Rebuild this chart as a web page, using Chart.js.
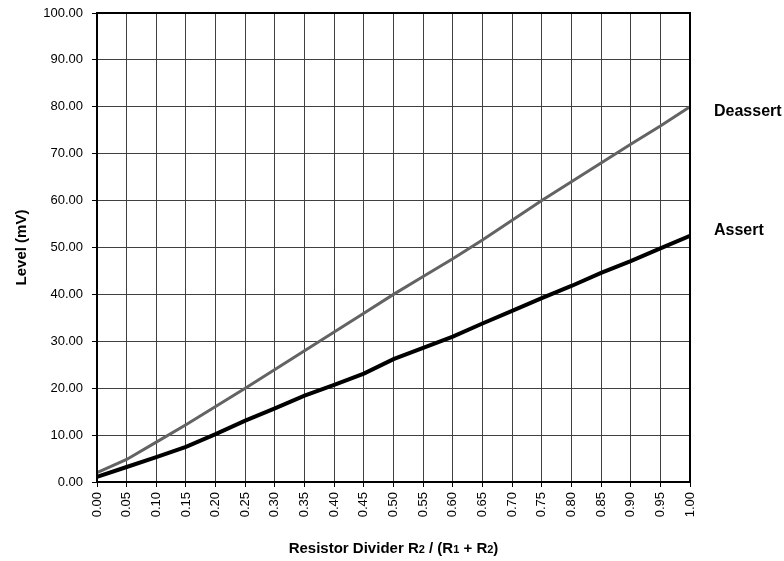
<!DOCTYPE html>
<html>
<head>
<meta charset="utf-8">
<script src="https://cdn.jsdelivr.net/npm/chart.js@4.4.1/dist/chart.umd.min.js"></script>
<style>
    html, body { margin: 0; padding: 0; background: #fff; }
    #wrap { width: 784px; height: 561px; position: relative; }
</style>
</head>
<body>
<div id="wrap"><canvas id="chart_1"></canvas></div>
<script>
// divider ratio R2 / (R1 + R2)
var ratios = [0.00, 0.05, 0.10, 0.15, 0.20, 0.25, 0.30, 0.35, 0.40, 0.45, 0.50,
    0.55, 0.60, 0.65, 0.70, 0.75, 0.80, 0.85, 0.90, 0.95, 1.00]
// level in mV
var deassert = [2.0, 4.8, 8.5, 12.2, 16.1, 20.0, 24.0, 28.0, 32.0, 36.0, 40.0,
    43.8, 47.6, 51.6, 55.8, 60.0, 64.0, 68.0, 72.0, 75.9, 80.0]
var assert = [1.1, 3.2, 5.3, 7.5, 10.2, 13.1, 15.7, 18.4, 20.7, 23.1, 26.2,
    28.6, 31.0, 33.8, 36.5, 39.2, 41.8, 44.6, 47.1, 49.8, 52.5]
var seriesNames = ["Deassert", "Assert"]

function toPoints(values) {
    return ratios.map(function (r, i) {
        return { x: r, y: values[i] }
    })
}

var FONT = "'Liberation Sans', Arial, sans-serif"
// small nudges so the names sit like the original
var labelOffsets = [5, -5]

// frame, end labels and the x title with subscripts
var extrasPlugin = {
    id: "extras",
    afterDraw: function (chart) {
        var ctx = chart.ctx
        var area = chart.chartArea
        ctx.save()
        ctx.strokeStyle = "#000"
        ctx.lineWidth = 2
        ctx.strokeRect(area.left, area.top, area.right - area.left, area.bottom - area.top)

        // series names at the end of each line
        ctx.fillStyle = "#000"
        ctx.font = "bold 16px " + FONT
        ctx.textBaseline = "middle"
        ctx.textAlign = "left"
        chart.data.datasets.forEach(function (ds, i) {
            var meta = chart.getDatasetMeta(i)
            var last = meta.data[meta.data.length - 1]
            ctx.fillText(ds.label, area.right + 24, last.y + labelOffsets[i])
        })

        // x title
        var parts = [
            ["Resistor Divider R", 15], ["2", 11], [" / (R", 15], ["1", 11],
            [" + R", 15], ["2", 11], [")", 15]
        ]
        var total = 0
        parts.forEach(function (p) {
            ctx.font = "bold " + p[1] + "px " + FONT
            total += ctx.measureText(p[0]).width
        })
        var x = (area.left + area.right) / 2 - total / 2
        var y = 553
        ctx.textBaseline = "alphabetic"
        parts.forEach(function (p) {
            ctx.font = "bold " + p[1] + "px " + FONT
            ctx.fillText(p[0], x, y)
            x += ctx.measureText(p[0]).width
        })
        ctx.restore()
    }
}

var config_1 = {
    type: "line",
    data: {
        datasets: [
            {
                label: seriesNames[0],
                data: toPoints(deassert),
                borderColor: "#636363",
                borderWidth: 3,
                pointRadius: 0,
                tension: 0
            },
            {
                label: seriesNames[1],
                data: toPoints(assert),
                borderColor: "#000000",
                borderWidth: 4,
                pointRadius: 0,
                tension: 0
            }
        ]
    },
    options: {
        responsive: true,
        maintainAspectRatio: false,
        animation: false,
        layout: { padding: { top: 13, right: 94, left: 0, bottom: 0 } },
        plugins: {
            legend: { display: false },
            tooltip: { enabled: false }
        },
        scales: {
            x: {
                type: "linear",
                min: 0,
                max: 1,
                afterFit: function (scale) {
                    scale.height = 79
                    scale.paddingLeft = 0
                    scale.paddingRight = 0
                },
                afterBuildTicks: function (scale) {
                    scale.ticks = ratios.map(function (r) { return { value: r } })
                },
                ticks: {
                    color: "#000",
                    font: { family: FONT, size: 13 },
                    minRotation: 90,
                    maxRotation: 90,
                    padding: 5,
                    callback: function (v) { return Number(v).toFixed(2) }
                },
                grid: {
                    color: "#404040",
                    lineWidth: 1,
                    tickLength: 5,
                    tickColor: "#000"
                },
                border: { color: "#000", width: 2 }
            },
            y: {
                min: 0,
                max: 100,
                afterFit: function (scale) {
                    scale.width = 97
                    scale.paddingTop = 0
                    scale.paddingBottom = 0
                },
                ticks: {
                    stepSize: 10,
                    color: "#000",
                    font: { family: FONT, size: 13 },
                    padding: 9,
                    callback: function (v) { return Number(v).toFixed(2) }
                },
                title: {
                    display: true,
                    text: "Level (mV)",
                    color: "#000",
                    font: { family: FONT, size: 15, weight: "bold" },
                    padding: { top: 13, bottom: 0 }
                },
                grid: {
                    color: "#404040",
                    lineWidth: 1,
                    tickLength: 5,
                    tickColor: "#000"
                },
                border: { color: "#000", width: 2 }
            }
        }
    },
    plugins: [extrasPlugin]
}

var CHART_1 = new Chart(document.getElementById("chart_1"), config_1)
</script>
</body>
</html>
